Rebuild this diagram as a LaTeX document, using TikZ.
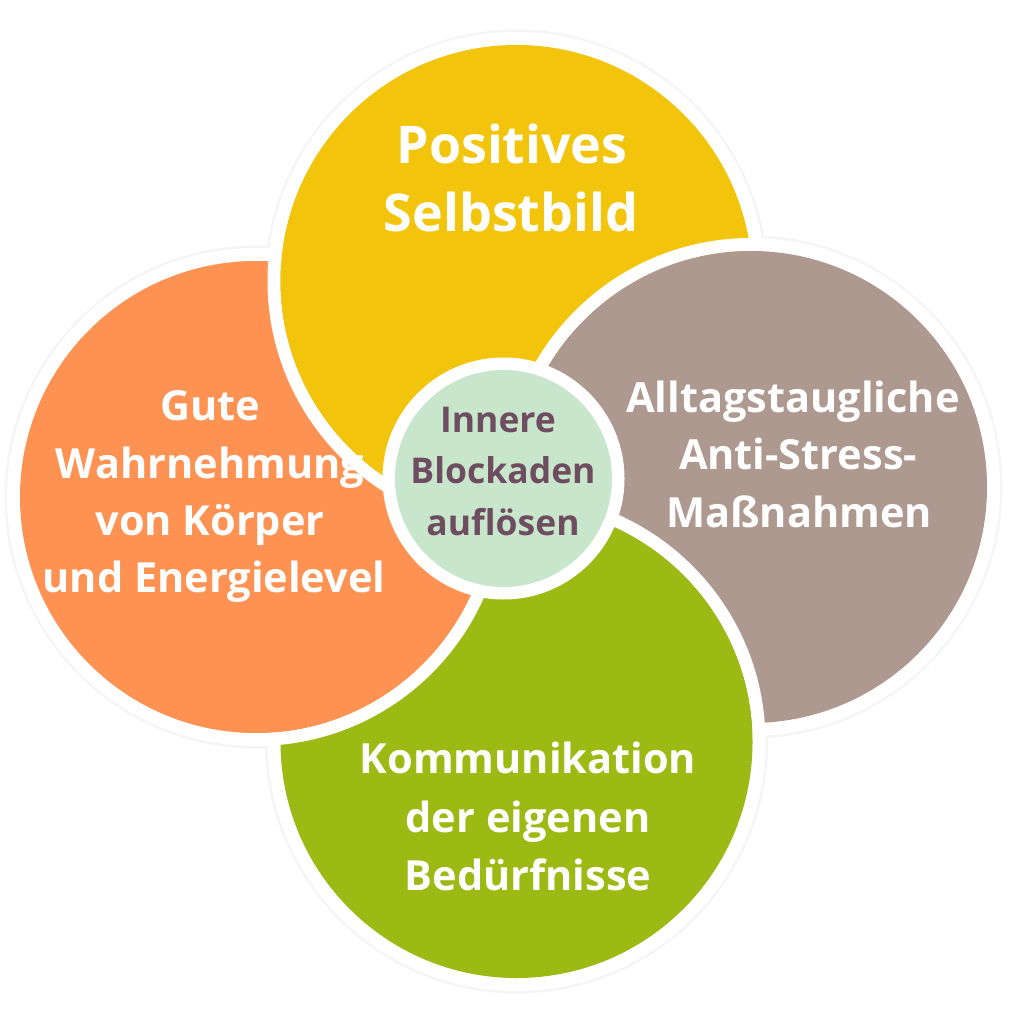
\documentclass[tikz,border=0pt]{standalone}
\usepackage{fontspec}
\setmainfont{Open Sans}
\definecolor{cyellow}{HTML}{F2C50C}
\definecolor{corange}{HTML}{FE9252}
\definecolor{ctaupe}{HTML}{AD998F}
\definecolor{cgreen}{HTML}{9DB913}
\definecolor{ccenter}{HTML}{C8E6CC}
\definecolor{ctext}{HTML}{6F4D60}
\definecolor{chalo}{HTML}{F5F5F5}
\begin{document}
\begin{tikzpicture}[x=1pt,y=-1pt,
  bigtxt/.style={anchor=base,text=white,font=\bfseries\fontsize{52}{60}\selectfont,inner sep=0pt},
  midtxt/.style={anchor=base,text=white,font=\bfseries\fontsize{41.5}{50}\selectfont,inner sep=0pt},
  centxt/.style={anchor=base,text=ctext,font=\bfseries\fontsize{35.5}{42}\selectfont,inner sep=0pt}]
\useasboundingbox[fill=white] (0,0) rectangle (1024,1024);
\def\R{236}
\def\W{249}
% coordinates of circle centres
\coordinate (Y) at (516.5,281);
\coordinate (T) at (751,487);
\coordinate (G) at (516.5,742);
\coordinate (O) at (256,497);
\coordinate (C) at (503.5,478.5);
% faint halo
\foreach \c in {Y,T,G,O} \fill[chalo] (\c) circle (251.5);
% petals: yellow, taupe, green, orange (each above the previous)
\foreach \c/\col in {Y/cyellow,T/ctaupe,G/cgreen,O/corange}{
  \fill[white,even odd rule] (\c) circle (\W) (\c) circle (\R);
  \fill[\col] (\c) circle (\R);
}
% yellow above orange
\begin{scope}
  \clip (0,0) rectangle (500,540);
  \fill[white,even odd rule] (Y) circle (\W) (Y) circle (\R);
  \fill[cyellow] (Y) circle (\R);
\end{scope}
% centre
\fill[white] (C) circle (121);
\node[circle,fill=ccenter,minimum size=217pt,inner sep=0pt] (hub) at (C) {};
% texts
\node[bigtxt] (y1) at (512,164) {Positives};
\node[bigtxt] (y2) at (511,232) {Selbstbild};
\node[midtxt] (o1) at (210,420) {Gute};
\node[midtxt] (o2) at (210,478) {Wahrnehmung};
\node[midtxt] (o3) at (210,535) {von Körper};
\node[midtxt] (o4) at (214,592) {und Energielevel};
\node[midtxt] (t1) at (793,412) {Alltagstaugliche};
\node[midtxt] (t2) at (798,469) {Anti-Stress-};
\node[midtxt] (t3) at (799,527) {Maßnahmen};
\node[midtxt] (g1) at (528,773) {Kommunikation};
\node[midtxt] (g2) at (528,832) {der eigenen};
\node[midtxt] (g3) at (528,890) {Bedürfnisse};
\node[centxt] (c1) at (498,432) {Innere};
\node[centxt] (c2) at (503,483) {Blockaden};
\node[centxt] (c3) at (503,535) {auflösen};
\end{tikzpicture}
\end{document}
